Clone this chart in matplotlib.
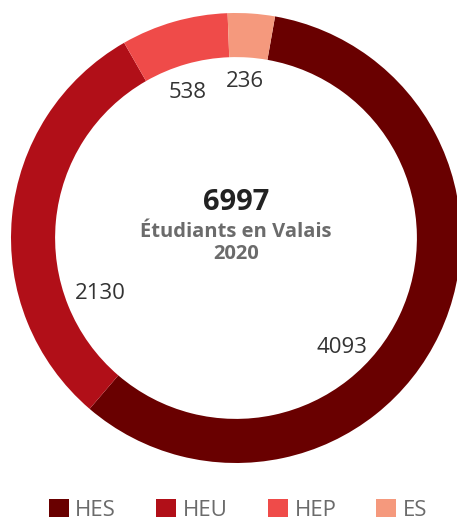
import matplotlib
matplotlib.use('Agg')
import matplotlib.pyplot as plt

plt.rcParams['font.family'] = ['Open Sans', 'DejaVu Sans']

# data
categories = ['HES', 'HEU', 'HEP', 'ES']
students = [4093, 2130, 538, 236]
colors = ['#690000', '#b10f18', '#ef4b49', '#f5997d']
total_label = '6997'
subtitle = 'Étudiants en Valais'
year = '2020'

# layout (data units, pie radius = 1)
label_xy = [(0.471, -0.511), (-0.604, -0.271), (-0.216, 0.622), (0.040, 0.671)]

W, H = 457, 522
fig = plt.figure(figsize=(W / 100, H / 100), dpi=100)
cx, cy, r = 236, 238, 225
ax = fig.add_axes([(cx - r) / W, (H - cy - r) / H, 2 * r / W, 2 * r / H])

wedges, _ = ax.pie(students, colors=colors, startangle=80, counterclock=False,
                   radius=1, wedgeprops=dict(width=0.196, linewidth=0))
ax.set_xlim(-1, 1)
ax.set_ylim(-1, 1)
ax.set_aspect('equal')
ax.axis('off')

for (x, y), v in zip(label_xy, students):
    ax.text(x, y, str(v), ha='center', va='baseline', fontsize=16, color='#333333')

ax.text(0, 0.124, total_label, ha='center', va='baseline', fontsize=21,
        fontweight='bold', color='#222222')
ax.text(0, 0.004, subtitle, ha='center', va='baseline', fontsize=14.5,
        fontweight='bold', color='#6b6b6b')
ax.text(0, -0.093, year, ha='center', va='baseline', fontsize=14.5,
        fontweight='bold', color='#6b6b6b')

leg = fig.legend(wedges, categories, loc='lower center', bbox_to_anchor=(0.521, 0.0),
                 ncol=4, frameon=False, fontsize=16, handlelength=0.9, handleheight=0.9,
                 handletextpad=0.3, columnspacing=1.8, borderpad=0, borderaxespad=0.05)
for t in leg.get_texts():
    t.set_color('#6b6b6b')

fig.savefig('out.png', dpi=100)
